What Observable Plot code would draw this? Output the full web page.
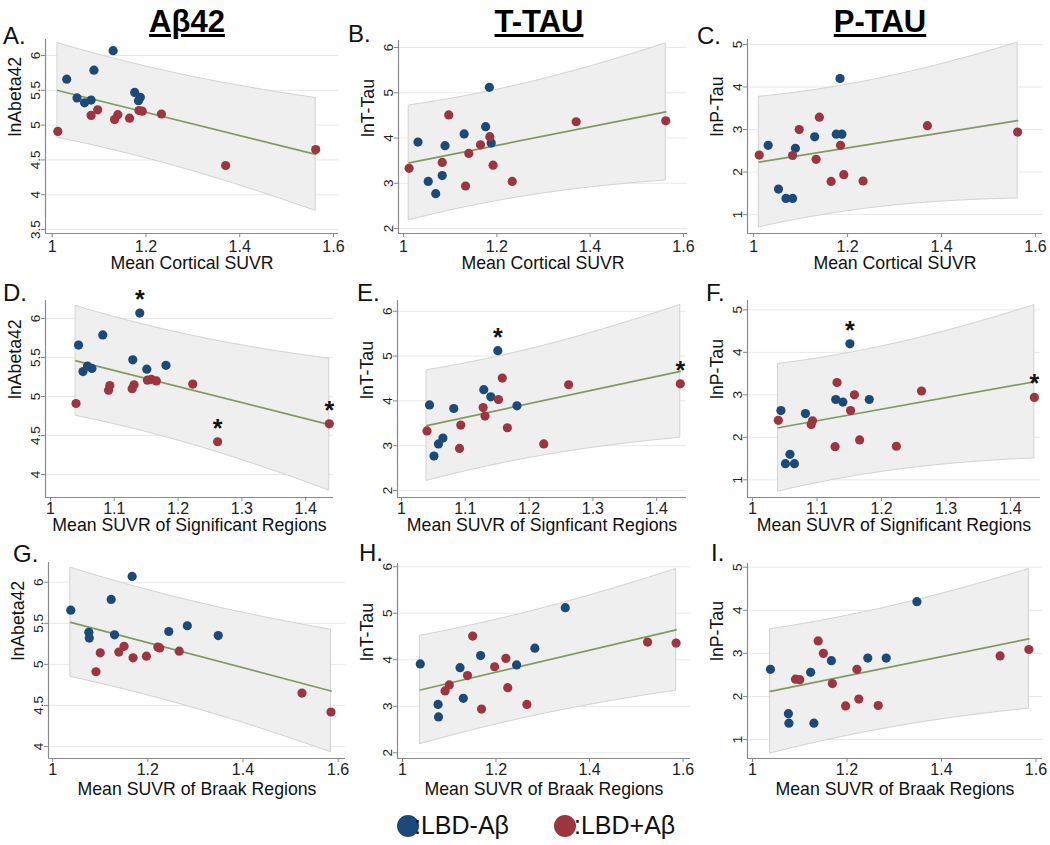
<!DOCTYPE html>
<html>
<head>
<meta charset="utf-8">
<script src="https://cdn.jsdelivr.net/npm/d3@7"></script>
<script src="https://cdn.jsdelivr.net/npm/@observablehq/plot@0.6"></script>
<style>
  html, body { margin: 0; padding: 0; background: #fff; }
  #wrap { position: relative; width: 1050px; height: 845px; overflow: hidden; font-family: "Liberation Sans", Arial, Helvetica, sans-serif; color: #111; }
  .panel { position: absolute; }
  .title { position: absolute; top: 6px; font-weight: bold; font-size: 31px; line-height: 1; white-space: nowrap; transform: translateX(-50%); text-decoration: underline; text-decoration-thickness: 3px; text-underline-offset: 2px; color: #000; z-index: 2; }
  .letter { position: absolute; font-size: 24px; line-height: 1; white-space: nowrap; color: #111; z-index: 2; }
  .legend { position: absolute; top: 813px; font-size: 25px; line-height: 1; white-space: nowrap; color: #111; z-index: 2; }
  .swatch { position: absolute; width: 22px; height: 22px; border-radius: 50%; top: 815px; z-index: 2; }
</style>
</head>
<body>
<div id="wrap"></div>
<script>
// ---------------- DATA (one entry per subject) ----------------
const groups = ["LBD-Aβ", "LBD+Aβ"];
const group = [
  "LBD-Aβ","LBD-Aβ","LBD-Aβ","LBD-Aβ","LBD-Aβ","LBD-Aβ","LBD-Aβ","LBD-Aβ","LBD-Aβ",
  "LBD+Aβ","LBD+Aβ","LBD+Aβ","LBD+Aβ","LBD+Aβ","LBD+Aβ","LBD+Aβ","LBD+Aβ","LBD+Aβ","LBD+Aβ","LBD+Aβ"
];
// x measures
const corticalSUVR    = [1.031,1.053,1.069,1.083,1.089,1.130,1.176,1.184,1.188, 1.012,1.083,1.097,1.133,1.140,1.165,1.185,1.192,1.233,1.370,1.562];
const significantSUVR = [1.044,1.058,1.051,1.065,1.082,1.140,1.129,1.151,1.181, 1.040,1.093,1.158,1.091,1.131,1.128,1.152,1.166,1.223,1.262,1.437];
const braakSUVR       = [1.038,1.076,1.077,1.130,1.123,1.167,1.283,1.348,1.244, 1.091,1.100,1.150,1.169,1.139,1.197,1.221,1.225,1.266,1.585,1.524];
// y measures
const lnAbeta42 = [5.66,5.39,5.32,5.36,5.79,6.07,5.47,5.35,5.40, 4.91,5.14,5.22,5.08,5.15,5.10,5.21,5.20,5.16,4.42,4.65];
const lnTTau    = [3.91,3.04,2.77,3.17,3.83,4.09,4.25,5.12,3.89, 3.33,3.46,4.51,2.94,3.66,3.85,4.03,3.40,3.04,4.36,4.38];
const lnPTau    = [2.63,1.60,1.38,1.38,2.56,2.83,2.89,4.20,2.89, 2.40,2.39,3.00,2.30,3.29,1.78,2.63,1.94,1.79,3.09,2.94];

// column / row labels and ticks
const columnTitles = ["Aβ42", "T-TAU", "P-TAU"];
const yLabels = ["lnAbeta42", "lnT-Tau", "lnP-Tau"];
const xLabels = [
  ["Mean Cortical SUVR", "Mean Cortical SUVR", "Mean Cortical SUVR"],
  ["Mean SUVR of Significant Regions", "Mean SUVR of Signficant Regions", "Mean SUVR of Significant Regions"],
  ["Mean SUVR of Braak Regions", "Mean SUVR of Braak Regions", "Mean SUVR of Braak Regions"]
];
const panelLetters = [["A.","B.","C."],["D.","E.","F."],["G.","H.","I."]];
const xTicksByRow = [[1, 1.2, 1.4, 1.6], [1, 1.1, 1.2, 1.3, 1.4], [1, 1.2, 1.4, 1.6]];
const yTicksAbeta = [[3.5, 4, 4.5, 5, 5.5, 6], [4, 4.5, 5, 5.5, 6], [4, 4.5, 5, 5.5, 6]];
const yTicksTTau = [2, 3, 4, 5, 6];
const yTicksPTau = [1, 2, 3, 4, 5];
// subjects flagged with an asterisk (row 2 only)
const starred = [[], [[5, 18, 19], [7, 19], [7, 19]], []];

const xSeries = [corticalSUVR, significantSUVR, braakSUVR];
const ySeries = [lnAbeta42, lnTTau, lnPTau];

// ---------------- LAYOUT ----------------
const colors = ["#1c4a78", "#9c3540"];
const FONT = '"Liberation Sans", Arial, Helvetica, sans-serif';
// plot-frame boxes (page px) and domains
const layout = [
  [ {L:45,  R:338,  T:39,  B:233, xd:[0.9857,1.6107], yd:[3.443,6.23]},
    {L:398, R:687,  T:40,  B:233, xd:[0.9893,1.6086], yd:[1.89,6.155]},
    {L:747, R:1042, T:39,  B:233, xd:[0.987,1.615],   yd:[0.556,5.117]} ],
  [ {L:45,  R:333,  T:300, B:497, xd:[0.9922,1.4436], yd:[3.705,6.231]},
    {L:397, R:686,  T:300, B:497, xd:[0.9938,1.4467], yd:[1.844,6.24]},
    {L:747, R:1040, T:300, B:497, xd:[0.9922,1.4465], yd:[0.584,5.22]} ],
  [ {L:48,  R:345,  T:562, B:758, xd:[0.9912,1.6155], yd:[3.854,6.24]},
    {L:397, R:690,  T:563, B:758, xd:[0.9893,1.6158], yd:[1.877,6.07]},
    {L:747, R:1042, T:563, B:758, xd:[0.9894,1.6138], yd:[0.56,5.086]} ]
];
const letterPos = [[[3,24],[348,22],[697,24]],[[3,281],[357,281],[706,281]],[[13,542],[359,541],[711,541]]];
const titleX = [187, 539, 880];
const xLabelOffset = [30, 28, 31];
const xTickPad = [3, 1, 1];

function fitBand(xs, ys) {
  const n = xs.length, mx = d3.mean(xs), my = d3.mean(ys);
  let sxx = 0, sxy = 0;
  for (let i = 0; i < n; i++) { sxx += (xs[i]-mx)**2; sxy += (xs[i]-mx)*(ys[i]-my); }
  const b = sxy / sxx, a = my - b * mx;
  let sse = 0;
  for (let i = 0; i < n; i++) sse += (ys[i] - a - b*xs[i])**2;
  const s = Math.sqrt(sse / (n - 2));
  const t = 2.100922; // t(0.975, df = 18)
  const [x0, x1] = d3.extent(xs);
  const band = d3.range(81).map(k => {
    const x = x0 + (x1 - x0) * k / 80;
    const yh = a + b * x;
    const se = s * Math.sqrt(1 + 1/n + (x - mx)**2 / sxx);
    return {x, yh, lo: yh - t*se, hi: yh + t*se};
  });
  return {band, line: [{x: x0, y: a + b*x0}, {x: x1, y: a + b*x1}]};
}

const wrap = document.getElementById("wrap");
const mL = 44, mR = 7, mT = 6, mB = 46;

for (let r = 0; r < 3; r++) {
  for (let c = 0; c < 3; c++) {
    const spec = layout[r][c];
    const xs = xSeries[r], ys = ySeries[c];
    const pts = xs.map((x, i) => ({x, y: ys[i], g: group[i], i}));
    const stars = (starred[r][c] || []).map(i => pts[i]);
    const {band, line} = fitBand(xs, ys);
    const yTicks = c === 0 ? yTicksAbeta[r] : c === 1 ? yTicksTTau : yTicksPTau;
    const plot = Plot.plot({
      width: spec.R - spec.L + mL + mR,
      height: spec.B - spec.T + mT + mB,
      marginLeft: mL, marginRight: mR, marginTop: mT, marginBottom: mB,
      style: {background: "transparent", overflow: "visible", fontFamily: FONT, color: "#111"},
      x: {domain: spec.xd},
      y: {domain: spec.yd},
      color: {domain: groups, range: colors},
      marks: [
        Plot.gridY(yTicks, {stroke: "#e9e9e9", strokeOpacity: 1}),
        Plot.areaY(band, {x: "x", y1: "lo", y2: "hi", fill: "#efefef", stroke: "#d2d2d2", strokeWidth: 1}),
        Plot.line(line, {x: "x", y: "y", stroke: "#7f9a62", strokeWidth: 1.7}),
        Plot.dot(pts, {x: "x", y: "y", fill: "g", r: 4.6}),
        Plot.text(stars, {x: "x", y: "y", text: () => "*", dy: -13, fontSize: 25, fontWeight: "bold", fill: "#111"}),
        Plot.axisX({ticks: xTicksByRow[r], tickSize: 4, tickPadding: xTickPad[r], tickFormat: d => String(d), fontSize: 16, label: null, stroke: "#8a8a8a", fill: "#222"}),
        Plot.axisY({ticks: yTicks, tickSize: 4, tickPadding: 2, tickRotate: -90, tickFormat: d => String(d), fontSize: 13.5, label: null, stroke: "#8a8a8a", fill: "#222"}),
        Plot.ruleX([spec.xd[0]], {stroke: "#8a8a8a", strokeWidth: 1.2}),
        Plot.ruleY([spec.yd[0]], {stroke: "#8a8a8a", strokeWidth: 1.2}),
        Plot.text([xLabels[r][c]], {text: d => d, frameAnchor: "bottom", lineAnchor: "middle", dy: xLabelOffset[r], fontSize: 17.7, fill: "#111"}),
        Plot.text([yLabels[c]], {text: d => d, frameAnchor: "left", lineAnchor: "middle", dx: -30, rotate: -90, fontSize: 17.7, fill: "#111"})
      ]
    });
    plot.classList.add("panel");
    plot.style.left = (spec.L - mL) + "px";
    plot.style.top = (spec.T - mT) + "px";
    wrap.appendChild(plot);

    const lt = document.createElement("div");
    lt.className = "letter";
    lt.textContent = panelLetters[r][c];
    lt.style.left = letterPos[r][c][0] + "px";
    lt.style.top = letterPos[r][c][1] + "px";
    wrap.appendChild(lt);
  }
}

columnTitles.forEach((t, c) => {
  const d = document.createElement("div");
  d.className = "title";
  d.textContent = t;
  d.style.left = titleX[c] + "px";
  wrap.appendChild(d);
});

// legend
[[397, 414], [554, 574]].forEach(([sx, tx], k) => {
  const s = document.createElement("div");
  s.className = "swatch";
  s.style.left = sx + "px";
  s.style.background = colors[k];
  wrap.appendChild(s);
  const t = document.createElement("div");
  t.className = "legend";
  t.textContent = ":" + groups[k];
  t.style.left = tx + "px";
  wrap.appendChild(t);
});
</script>
</body>
</html>
